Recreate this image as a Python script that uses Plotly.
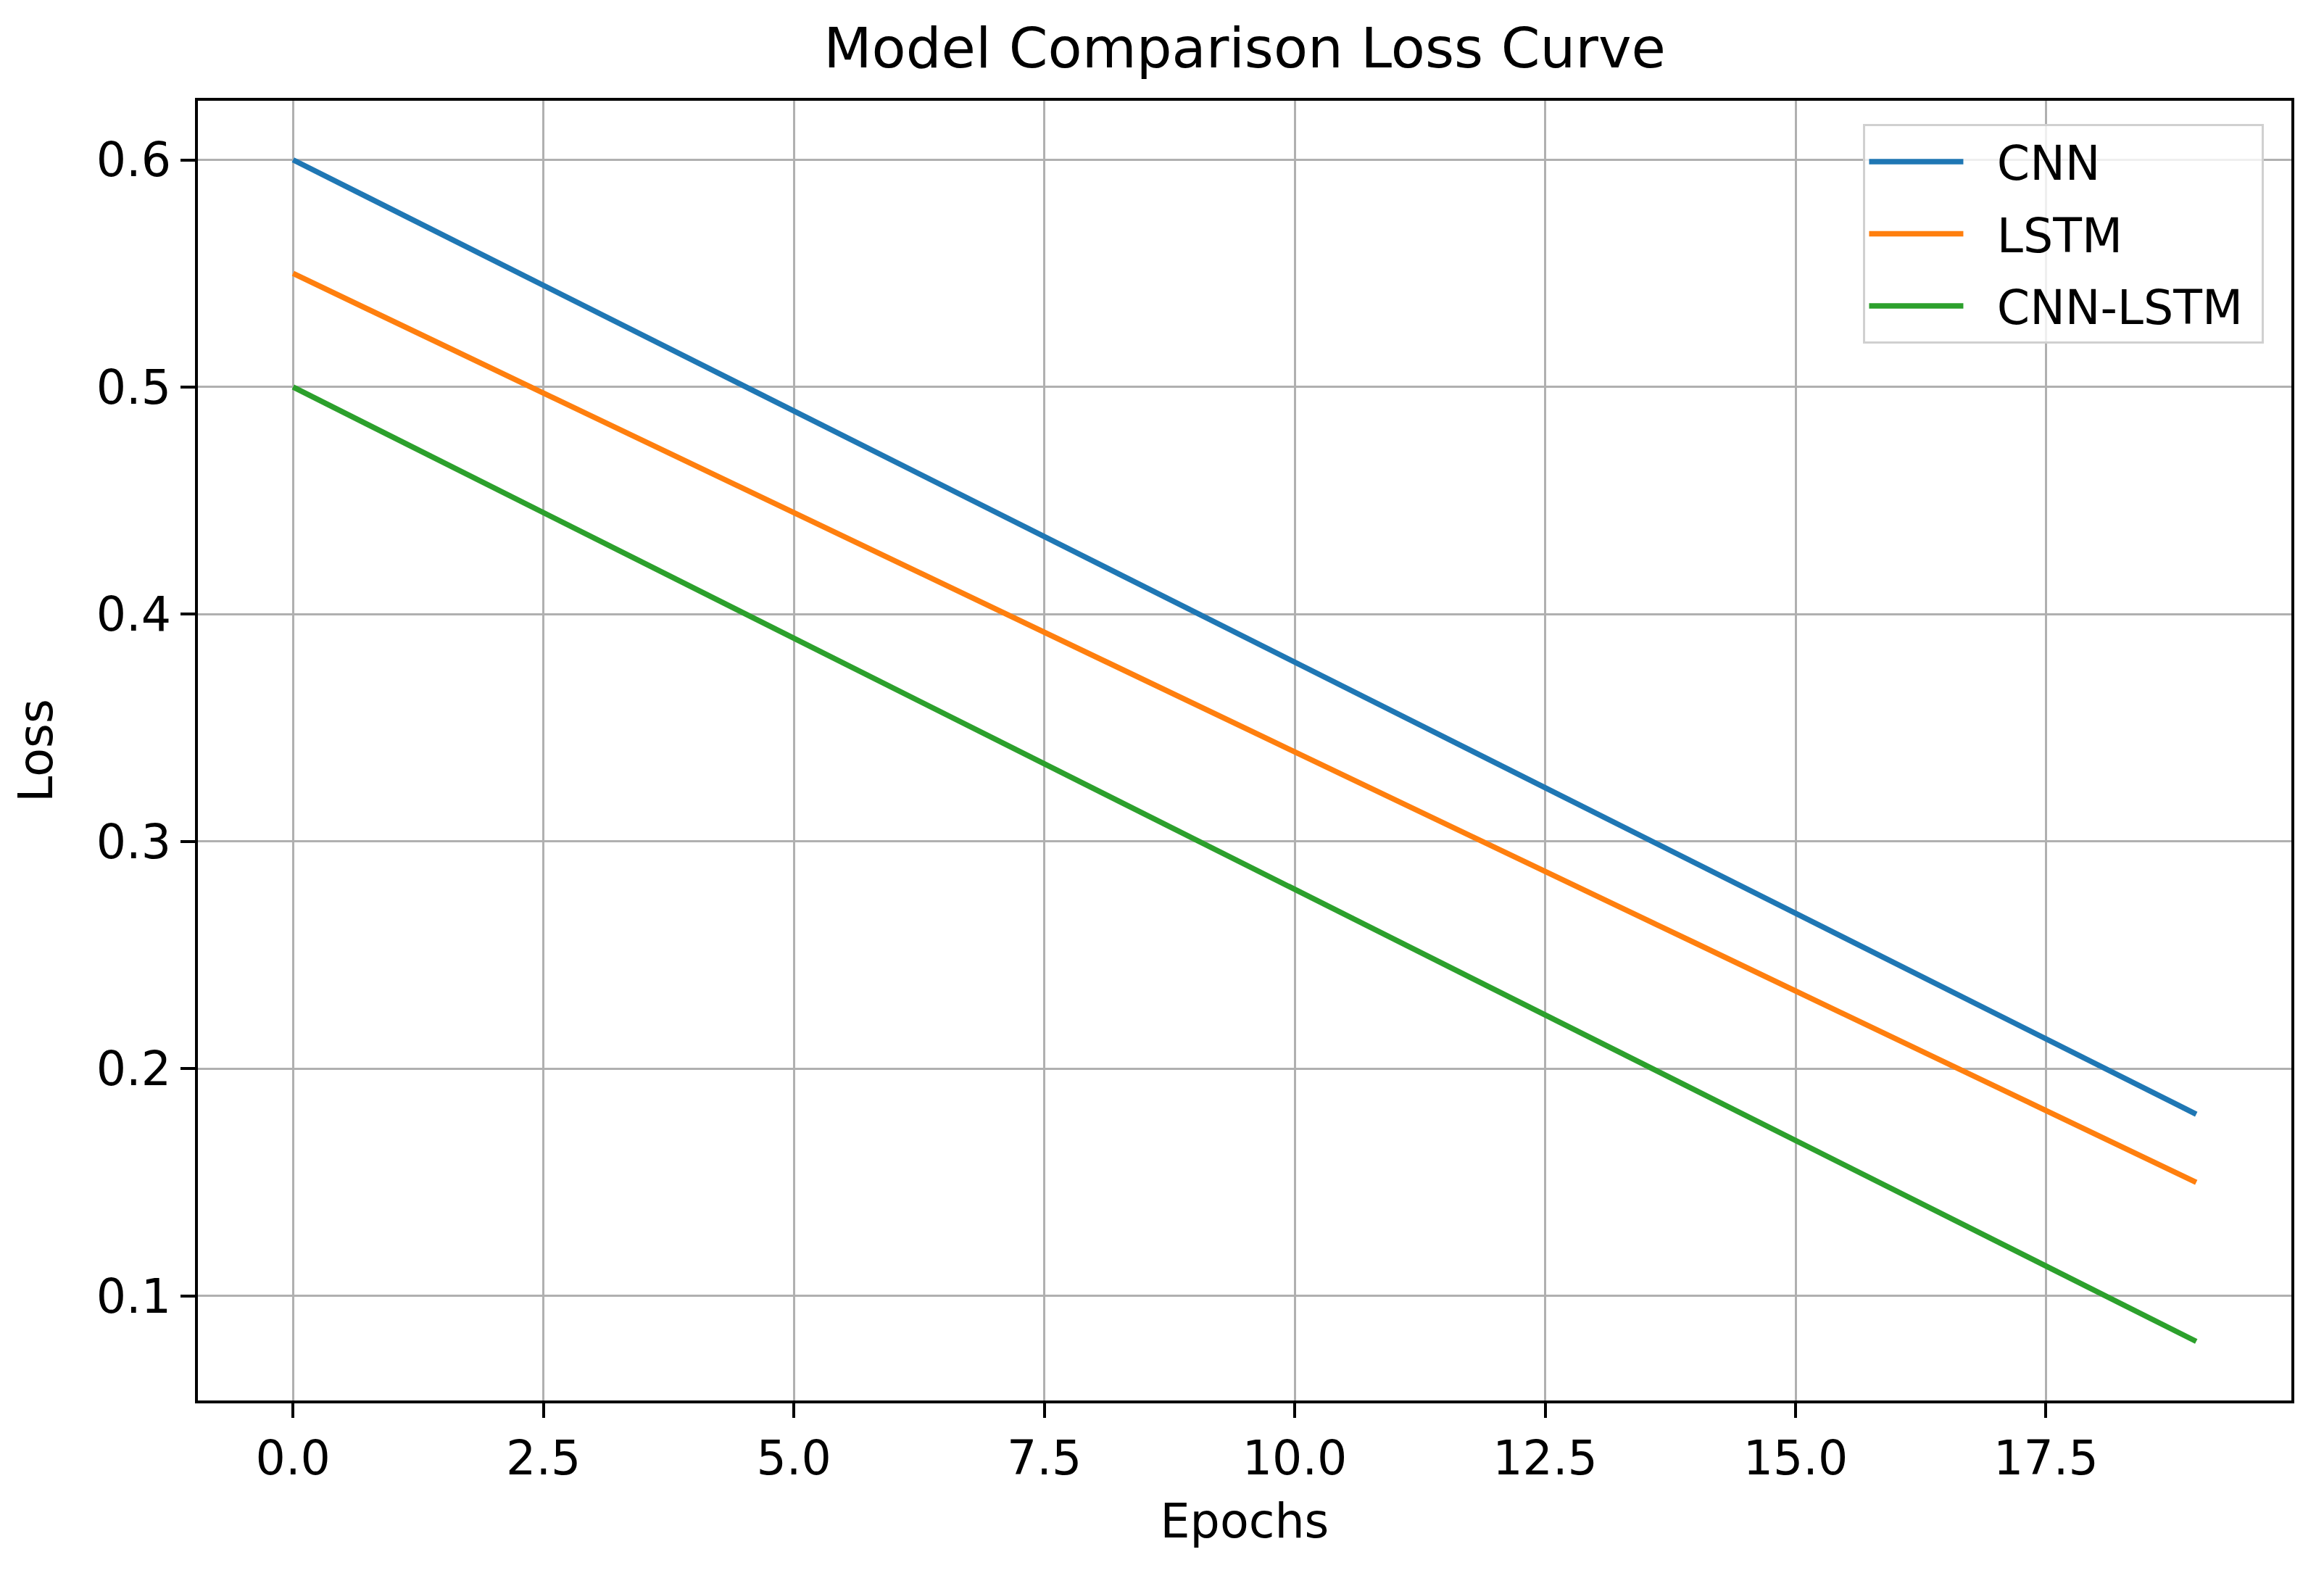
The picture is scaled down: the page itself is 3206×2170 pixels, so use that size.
import plotly.graph_objects as go

# epochs 0..19
epochs = list(range(20))

cnn_loss = [0.6000, 0.5779, 0.5558, 0.5337, 0.5116, 0.4895, 0.4674, 0.4453, 0.4232, 0.4011,
            0.3789, 0.3568, 0.3347, 0.3126, 0.2905, 0.2684, 0.2463, 0.2242, 0.2021, 0.1800]
lstm_loss = [0.5500, 0.5289, 0.5079, 0.4868, 0.4658, 0.4447, 0.4237, 0.4026, 0.3816, 0.3605,
             0.3395, 0.3184, 0.2974, 0.2763, 0.2553, 0.2342, 0.2132, 0.1921, 0.1711, 0.1500]
cnn_lstm_loss = [0.5000, 0.4779, 0.4558, 0.4337, 0.4116, 0.3895, 0.3674, 0.3453, 0.3232, 0.3011,
                 0.2789, 0.2568, 0.2347, 0.2126, 0.1905, 0.1684, 0.1463, 0.1242, 0.1021, 0.0800]

series = [
    ('CNN', cnn_loss, '#1f77b4'),
    ('LSTM', lstm_loss, '#ff7f0e'),
    ('CNN-LSTM', cnn_lstm_loss, '#2ca02c'),
]

fig = go.Figure()

for name, vals, color in series:
    fig.add_trace(go.Scatter(
        x=epochs,
        y=vals,
        mode='lines',
        name='\u00a0\u00a0' + name + '\u00a0',  # gap between legend line and text
        legendgroup=name,
        line=dict(color=color, width=7.5)
    ))

axis_common = dict(
    showline=True,
    linecolor='black',
    linewidth=4,
    mirror=True,
    showgrid=True,
    gridcolor='#b0b0b0',
    gridwidth=3,
    zeroline=False,
    ticks='outside',
    ticklen=20,
    tickwidth=4,
    tickcolor='black',
    tickfont=dict(size=65, color='black'),
    tickformat='.1f',
)

fig.update_xaxes(
    range=[-0.95, 19.95],
    dtick=2.5,
    tick0=0,
    title=dict(text='Epochs', font=dict(size=65, color='black'), standoff=28),
    **axis_common
)
fig.update_yaxes(
    range=[0.054, 0.626],
    dtick=0.1,
    tick0=0,
    title=dict(text='Loss', font=dict(size=65, color='black'), standoff=40),
    **axis_common
)

fig.update_layout(
    width=3206,
    height=2170,
    margin=dict(l=265, r=53, t=131, b=246),
    paper_bgcolor='white',
    plot_bgcolor='white',
    font=dict(family='DejaVu Sans', color='black'),
    title=dict(
        text='Model Comparison Loss Curve',
        xref='paper',
        x=0.5,
        xanchor='center',
        y=1 - 58 / 2170,
        yanchor='middle',
        font=dict(size=77, color='black')
    ),
    showlegend=True,
    legend=dict(
        x=0.987,
        y=0.982,
        xanchor='right',
        yanchor='top',
        bgcolor='rgba(255,255,255,0.8)',
        bordercolor='#d0d0d0',
        borderwidth=3,
        font=dict(size=65, color='black'),
        itemwidth=130,
        tracegroupgap=12,
    ),
)

fig.write_html("out.html")
